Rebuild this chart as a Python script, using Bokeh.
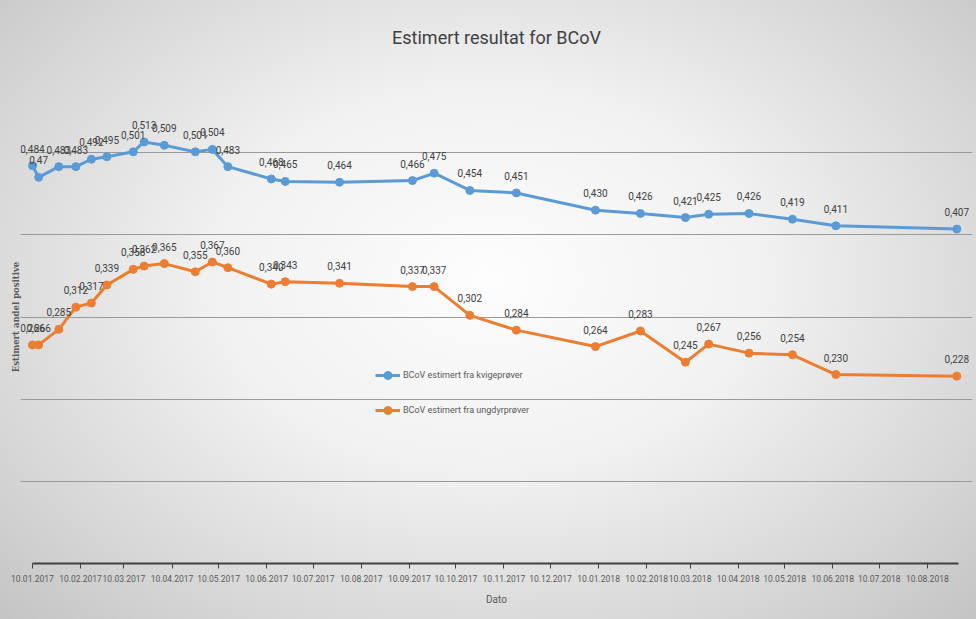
import datetime as dt
from bokeh.plotting import figure
from bokeh.models import (ColumnDataSource, FixedTicker, DatetimeTickFormatter, LabelSet,
                          Legend, LegendItem, Grid, CustomJSTickFormatter, Range1d)
from bokeh.core.properties import value
from bokeh.embed import file_html
from bokeh.resources import INLINE

FONT = "Roboto"

dates = ["2017-01-10", "2017-01-14", "2017-01-27", "2017-02-07", "2017-02-17", "2017-02-27",
         "2017-03-16", "2017-03-23", "2017-04-05", "2017-04-25", "2017-05-06", "2017-05-16",
         "2017-06-13", "2017-06-22", "2017-07-27", "2017-09-12", "2017-09-26", "2017-10-19",
         "2017-11-18", "2018-01-08", "2018-02-06", "2018-03-07", "2018-03-22", "2018-04-17",
         "2018-05-15", "2018-06-12", "2018-08-29"]
kvige = [0.484, 0.47, 0.483, 0.483, 0.492, 0.495, 0.501, 0.513, 0.509, 0.501, 0.504, 0.483,
         0.468, 0.465, 0.464, 0.466, 0.475, 0.454, 0.451, 0.430, 0.426, 0.421, 0.425, 0.426,
         0.419, 0.411, 0.407]
kvige_decimals = [3, 2] + [3] * 25
ungdyr = [0.266, 0.266, 0.285, 0.312, 0.317, 0.339, 0.358, 0.362, 0.365, 0.355, 0.367, 0.360,
          0.340, 0.343, 0.341, 0.337, 0.337, 0.302, 0.284, 0.264, 0.283, 0.245, 0.267, 0.256,
          0.254, 0.230, 0.228]
ungdyr_decimals = [3] * 27
tick_dates = ["2017-01-10", "2017-02-10", "2017-03-10", "2017-04-10", "2017-05-10", "2017-06-10",
              "2017-07-10", "2017-08-10", "2017-09-10", "2017-10-10", "2017-11-10", "2017-12-10",
              "2018-01-10", "2018-02-10", "2018-03-10", "2018-04-10", "2018-05-10", "2018-06-10",
              "2018-07-10", "2018-08-10"]
series_names = ["BCoV estimert fra kvigeprøver", "BCoV estimert fra ungdyrprøver"]
title_text = "Estimert resultat for BCoV"
x_label = "Dato"
y_label = "Estimert andel positive"

def to_dt(s):
    return dt.datetime.strptime(s, "%Y-%m-%d")

def ms(d):
    return (d - dt.datetime(1970, 1, 1)).total_seconds() * 1000.0

def fmt(v, d):
    return f"{v:.{d}f}".replace(".", ",")

x = [to_dt(d) for d in dates]
src_b = ColumnDataSource(dict(x=x, y=kvige, label=[fmt(v, d) for v, d in zip(kvige, kvige_decimals)]))
src_o = ColumnDataSource(dict(x=x, y=ungdyr, label=[fmt(v, d) for v, d in zip(ungdyr, ungdyr_decimals)]))

axis_start = to_dt("2017-01-10")
axis_end = to_dt("2018-08-30")
bounds = (ms(axis_start), ms(axis_end))
p = figure(width=976, height=619, x_axis_type="datetime", output_backend="svg",
           toolbar_location=None,
           x_range=Range1d(axis_start - dt.timedelta(days=7.7), axis_start + dt.timedelta(days=606.1)),
           y_range=Range1d(0, 0.6),
           min_border_left=20, min_border_right=4, min_border_top=70, min_border_bottom=56)
p.styles = {"background": "radial-gradient(ellipse at 50% 45%, #fdfdfd 0%, #f1f1f1 40%, #d4d4d4 80%, #c4c4c4 100%)"}
p.border_fill_alpha = 0
p.background_fill_alpha = 0
p.outline_line_color = None

p.title.text = title_text
p.title.align = "center"
p.title.text_font = FONT
p.title.text_font_size = "18px"
p.title.text_font_style = "normal"
p.title.text_color = "#404040"
p.title.standoff = 45

# x axis
xa = p.xaxis[0]
xa.ticker = FixedTicker(ticks=[ms(to_dt(t)) for t in tick_dates])
fstr = "%d.%m.%Y"
xa.formatter = DatetimeTickFormatter(microseconds=fstr, milliseconds=fstr, seconds=fstr, minsec=fstr,
                                     minutes=fstr, hourmin=fstr, hours=fstr, days=fstr,
                                     months=fstr, years=fstr)
xa.bounds = bounds
xa.axis_line_color = "#404040"
xa.axis_line_width = 2
xa.major_tick_line_color = "#404040"
xa.major_tick_out = 5
xa.major_tick_in = 0
xa.minor_tick_line_color = None
xa.major_label_text_font = FONT
xa.major_label_text_font_size = "8.5px"
xa.major_label_text_color = "#595959"
xa.major_label_standoff = 6
xa.axis_label = x_label
xa.axis_label_text_font = FONT
xa.axis_label_text_font_size = "10px"
xa.axis_label_text_font_style = "normal"
xa.axis_label_text_color = "#595959"
xa.axis_label_standoff = 9

# y axis
ya = p.yaxis[0]
ya.ticker = FixedTicker(ticks=[])
ya.formatter = CustomJSTickFormatter(code="return ''")
ya.axis_line_color = None
ya.major_tick_line_color = None
ya.minor_tick_line_color = None
ya.axis_label = y_label
ya.axis_label_text_font = "DejaVu Serif"
ya.axis_label_text_font_size = "8.5px"
ya.axis_label_text_font_style = "bold"
ya.axis_label_text_color = "#595959"
ya.axis_label_standoff = 0

p.xgrid.visible = False
p.ygrid[0].ticker = FixedTicker(ticks=[0.1, 0.2, 0.3, 0.4, 0.5])
p.ygrid[0].grid_line_color = "#9a9a9a"
p.ygrid[0].grid_line_width = 1
p.ygrid[0].bounds = bounds
top_grid = Grid(dimension=1, ticker=FixedTicker(ticks=[0.6]), grid_line_color="#dedede",
                bounds=bounds)
p.add_layout(top_grid)

blue = "#5b9bd5"
orange = "#ed7d31"
lb = p.line("x", "y", source=src_b, color=blue, line_width=3)
sb = p.scatter("x", "y", source=src_b, color=blue, size=8)
lo = p.line("x", "y", source=src_o, color=orange, line_width=3)
so = p.scatter("x", "y", source=src_o, color=orange, size=8)

for src in (src_b, src_o):
    p.add_layout(LabelSet(x="x", y="y", text="label", source=src, text_align="center",
                          text_baseline="bottom", y_offset=13, text_font=value(FONT),
                          text_font_size="10px", text_color="#404040"))

legend = Legend(items=[LegendItem(label=series_names[0], renderers=[lb, sb]),
                       LegendItem(label=series_names[1], renderers=[lo, so])],
                location=(355, 143), orientation="vertical", spacing=15,
                glyph_width=25, glyph_height=20, label_height=20, label_standoff=3,
                padding=0, margin=0, border_line_color=None, background_fill_alpha=0,
                label_text_font=FONT, label_text_font_size="9px", label_text_color="#595959")
p.add_layout(legend)

open("out.html", "w").write(file_html(p, INLINE))
